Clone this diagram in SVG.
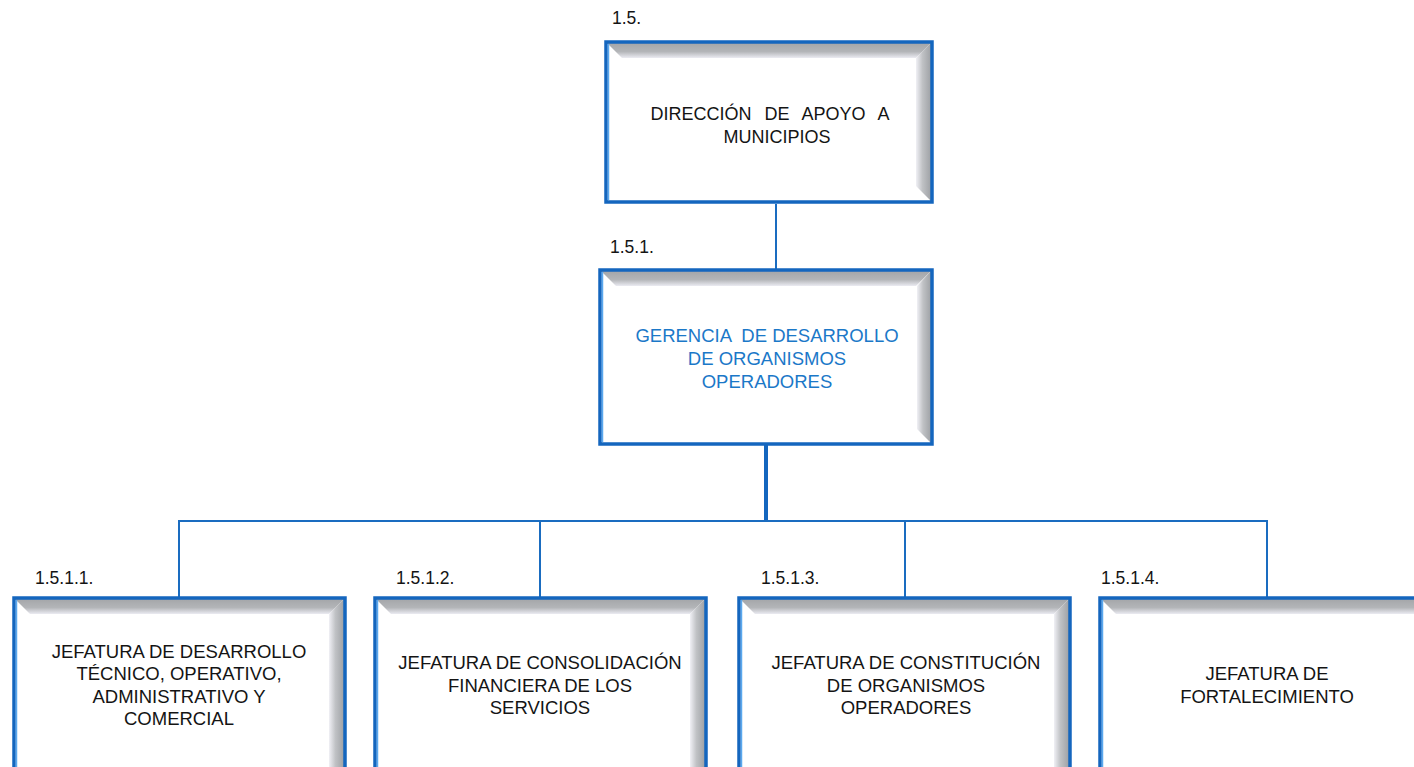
<svg xmlns="http://www.w3.org/2000/svg" width="1414" height="767" viewBox="0 0 1414 767">
<defs>
<linearGradient id="gTop" x1="0" y1="0" x2="0" y2="1">
<stop offset="0" stop-color="#a2a4a7"/>
<stop offset="0.6" stop-color="#b3b5b8"/>
<stop offset="1" stop-color="#ebebf2"/>
</linearGradient>
<linearGradient id="gRight" x1="0" y1="0" x2="1" y2="0">
<stop offset="0" stop-color="#f0f0f5"/>
<stop offset="0.4" stop-color="#c0c2c5"/>
<stop offset="1" stop-color="#9a9da1"/>
</linearGradient>
<style>
.frame{fill:none;stroke:#1466be;stroke-width:3.5}
.hl{stroke:#5aa8ee;stroke-width:1.5;fill:none}
.conn{stroke:#1a6cc0;stroke-width:2;fill:none}
.thick{stroke:#1466be;stroke-width:4;fill:none}
.t{font-family:"Liberation Sans",Arial,sans-serif;font-size:18.5px;fill:#141414;text-anchor:middle}
.t1{font-size:18px}
.tb{fill:#1b78c8}
.lbl{font-family:"Liberation Sans",Arial,sans-serif;font-size:17.5px;fill:#141414}
</style>
</defs>
<rect width="1414" height="767" fill="#ffffff"/>

<g id="connectors">
<line class="conn" x1="776" y1="204" x2="776" y2="269"/>
<line class="thick" x1="766" y1="445" x2="766" y2="521"/>
<line class="conn" x1="178" y1="521" x2="1268" y2="521"/>
<line class="conn" x1="179" y1="521" x2="179" y2="597"/>
<line class="conn" x1="540" y1="521" x2="540" y2="597"/>
<line class="conn" x1="905" y1="521" x2="905" y2="597"/>
<line class="conn" x1="1267" y1="521" x2="1267" y2="597"/>
</g>

<g id="n1">
<text class="lbl" x="612" y="24">1.5.</text>
<rect x="606" y="42" width="326" height="160" fill="#ffffff"/>
<polygon points="606,42 932,42 916,58 622,58" fill="url(#gTop)"/>
<polygon points="932,42 932,202 916,186 916,58" fill="url(#gRight)"/>
<rect class="frame" x="606" y="42" width="326" height="160"/>
<line class="hl" x1="608.5" y1="44" x2="608.5" y2="200"/>
<text class="t t1" x="770" y="120" word-spacing="8">DIRECCIÓN DE APOYO A</text>
<text class="t t1" x="777" y="143">MUNICIPIOS</text>
</g>

<g id="n2">
<text class="lbl" x="610" y="253">1.5.1.</text>
<rect x="600" y="270" width="332" height="174" fill="#ffffff"/>
<polygon points="600,270 932,270 916,286 616,286" fill="url(#gTop)"/>
<polygon points="932,270 932,444 917,429 917,286" fill="url(#gRight)"/>
<rect class="frame" x="600" y="270" width="332" height="174"/>
<line class="hl" x1="602.5" y1="272" x2="602.5" y2="442"/>
<text class="t tb" x="767" y="342" xml:space="preserve">GERENCIA  DE DESARROLLO</text>
<text class="t tb" x="767" y="365">DE ORGANISMOS</text>
<text class="t tb" x="767" y="388">OPERADORES</text>
</g>

<g id="n3">
<text class="lbl" x="35" y="584">1.5.1.1.</text>
<rect x="14" y="598" width="331" height="200" fill="#ffffff"/>
<polygon points="14,598 345,598 329,614 30,614" fill="url(#gTop)"/>
<polygon points="345,598 345,798 329,782 329,614" fill="url(#gRight)"/>
<rect class="frame" x="14" y="598" width="331" height="200"/>
<line class="hl" x1="16.5" y1="600" x2="16.5" y2="767"/>
<text class="t" x="179" y="658">JEFATURA DE DESARROLLO</text>
<text class="t" x="179" y="680">TÉCNICO, OPERATIVO,</text>
<text class="t" x="179" y="703">ADMINISTRATIVO Y</text>
<text class="t" x="179" y="725">COMERCIAL</text>
</g>

<g id="n4">
<text class="lbl" x="396" y="584">1.5.1.2.</text>
<rect x="375" y="598" width="331" height="200" fill="#ffffff"/>
<polygon points="375,598 706,598 690,614 391,614" fill="url(#gTop)"/>
<polygon points="706,598 706,798 690,782 690,614" fill="url(#gRight)"/>
<rect class="frame" x="375" y="598" width="331" height="200"/>
<line class="hl" x1="377.5" y1="600" x2="377.5" y2="767"/>
<text class="t" x="540" y="669">JEFATURA DE CONSOLIDACIÓN</text>
<text class="t" x="540" y="692">FINANCIERA DE LOS</text>
<text class="t" x="540" y="714">SERVICIOS</text>
</g>

<g id="n5">
<text class="lbl" x="761" y="584">1.5.1.3.</text>
<rect x="739" y="598" width="331" height="200" fill="#ffffff"/>
<polygon points="739,598 1070,598 1054,614 755,614" fill="url(#gTop)"/>
<polygon points="1070,598 1070,798 1054,782 1054,614" fill="url(#gRight)"/>
<rect class="frame" x="739" y="598" width="331" height="200"/>
<line class="hl" x1="741.5" y1="600" x2="741.5" y2="767"/>
<text class="t" x="906" y="669">JEFATURA DE CONSTITUCIÓN</text>
<text class="t" x="906" y="692">DE ORGANISMOS</text>
<text class="t" x="906" y="714">OPERADORES</text>
</g>

<g id="n6">
<text class="lbl" x="1101" y="584">1.5.1.4.</text>
<rect x="1100" y="598" width="340" height="200" fill="#ffffff"/>
<polygon points="1100,598 1440,598 1424,614 1116,614" fill="url(#gTop)"/>
<rect class="frame" x="1100" y="598" width="340" height="200"/>
<line class="hl" x1="1102.5" y1="600" x2="1102.5" y2="767"/>
<text class="t" x="1267" y="680">JEFATURA DE</text>
<text class="t" x="1267" y="703">FORTALECIMIENTO</text>
</g>
</svg>
